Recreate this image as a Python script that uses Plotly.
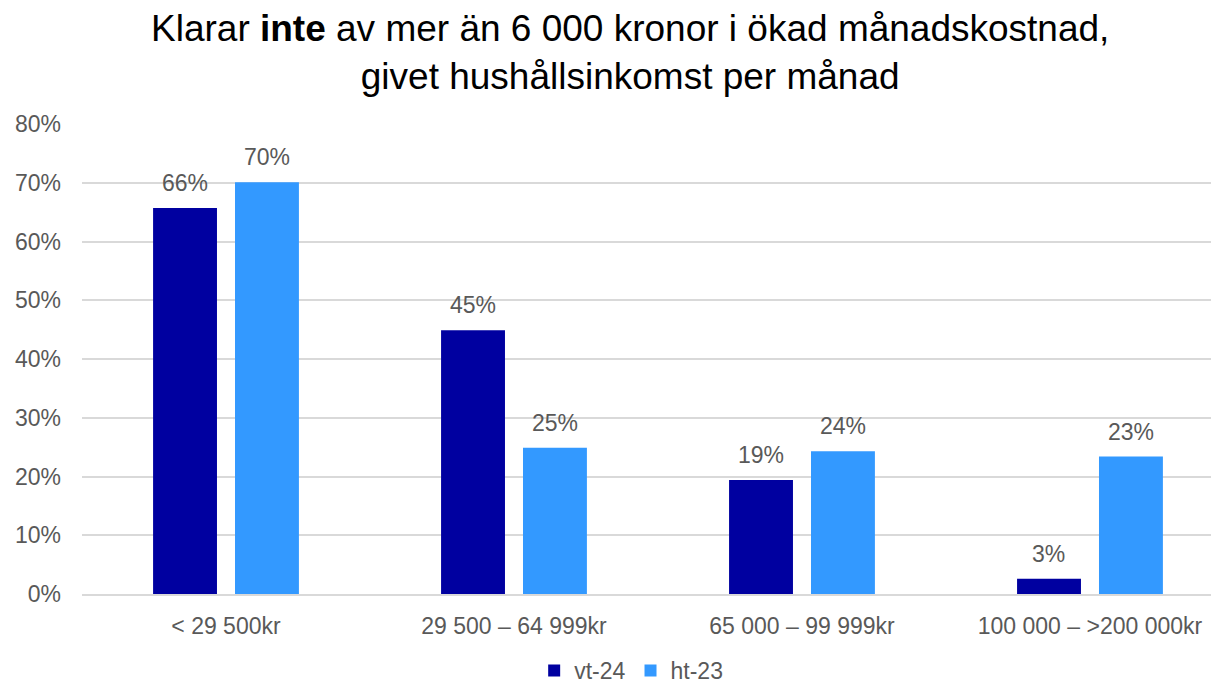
import plotly.graph_objects as go

# Inkomstgrupper och andel som inte klarar ökad månadskostnad
categories = ["< 29 500kr", "29 500 – 64 999kr", "65 000 – 99 999kr", "100 000 – >200 000kr"]
vt24 = [65.7, 44.9, 19.4, 2.6]
ht23 = [70.1, 24.9, 24.3, 23.4]

dark = "#0000A0"
light = "#3399FF"
grey = "#595959"
font = "Liberation Sans, Arial, sans-serif"

fig = go.Figure()
fig.add_trace(go.Bar(x=categories, y=vt24, name="vt-24", marker=dict(color=dark, line=dict(width=0))))
fig.add_trace(go.Bar(x=categories, y=ht23, name="ht-23", marker=dict(color=light, line=dict(width=0))))

# value labels above the bars
for vals, shift in ((vt24, -41), (ht23, 41)):
    for c, v in zip(categories, vals):
        fig.add_annotation(x=c, y=v, text=f"{v:.0f}%", showarrow=False, xshift=shift,
                           yshift=25, font=dict(size=23, color=grey, family=font))

# title (two lines)
fig.add_annotation(text="Klarar <b>inte</b> av mer än 6 000 kronor i ökad månadskostnad,<br>givet hushållsinkomst per månad",
                   xref="paper", yref="paper", x=0.482, y=1, yshift=72, yanchor="middle",
                   showarrow=False, font=dict(size=37, color="black", family=font))

fig.update_layout(
    width=1211, height=676,
    paper_bgcolor="white", plot_bgcolor="white",
    font=dict(family=font, color=grey, size=23),
    margin=dict(l=74, r=0, t=116, b=90, autoexpand=False),
    barmode="group", bargap=0.431, bargroupgap=0.22,
    showlegend=True,
    legend=dict(orientation="h", x=0.483, xanchor="center", yref="container", y=0.02, yanchor="middle",
                font=dict(size=23, color=grey), itemwidth=30, traceorder="normal"),
    xaxis=dict(range=[-0.5, 3.448], showgrid=False, showline=True, linecolor="#D9D9D9", linewidth=2,
               ticks="", tickfont=dict(size=23, color=grey), ticklabelstandoff=10),
    yaxis=dict(range=[0, 80], dtick=10, ticksuffix="%", showgrid=True, gridcolor="#D9D9D9", gridwidth=2,
               zeroline=False, showline=False, tickfont=dict(size=23, color=grey), ticklabelstandoff=20),
)

fig.write_html("out.html")
